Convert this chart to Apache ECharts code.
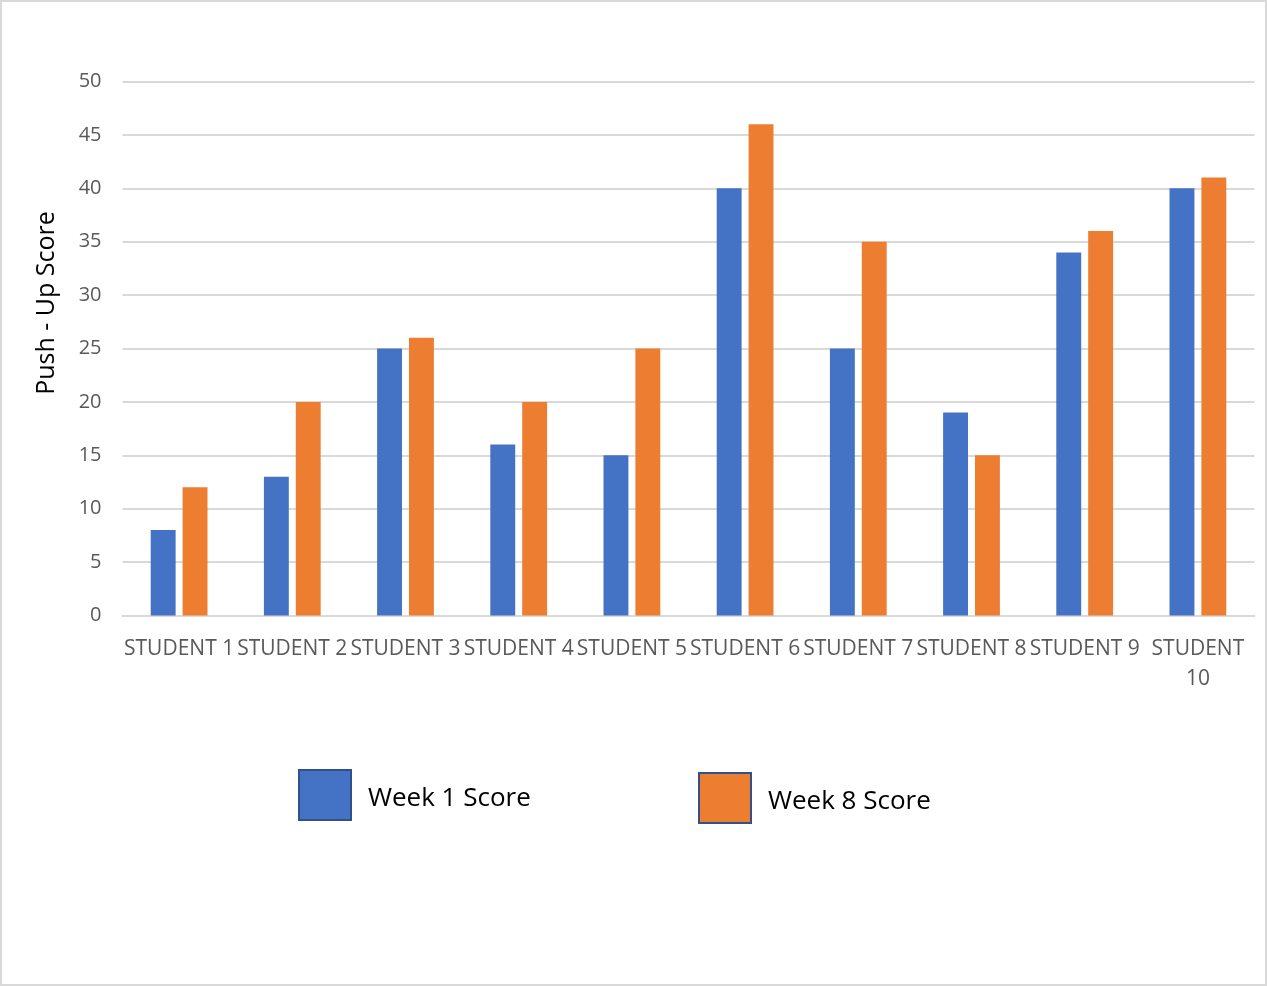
<!DOCTYPE html>
<html>
<head>
<meta charset="utf-8">
<script src="https://cdn.jsdelivr.net/npm/echarts@6/dist/echarts.min.js"></script>
<style>
  html, body { margin: 0; padding: 0; background: #fff; }
  #chart { width: 1267px; height: 986px; }
</style>
</head>
<body>
<div id="chart"></div>
<script>
// Push-up scores per student, first and eighth week
const students = ['STUDENT 1', 'STUDENT 2', 'STUDENT 3', 'STUDENT 4', 'STUDENT 5',
                  'STUDENT 6', 'STUDENT 7', 'STUDENT 8', 'STUDENT 9', 'STUDENT 10'];
const week1Scores = [8, 13, 25, 16, 15, 40, 25, 19, 34, 40];
const week8Scores = [12, 20, 26, 20, 25, 46, 35, 15, 36, 41];
const seriesNames = ['Week 1 Score', 'Week 8 Score'];
const yAxisTitle = 'Push - Up Score';

const chart = echarts.init(document.getElementById('chart'), null, { renderer: 'canvas' });

const legendBase = {
  orient: 'horizontal',
  itemWidth: 52,
  itemHeight: 50,
  icon: 'rect',
  selectedMode: false,
  itemStyle: { borderColor: '#2f528f', borderWidth: 2 },
  formatter: '{t|{name}}',
  textStyle: {
    fontFamily: 'Open Sans',
    fontSize: 26,
    color: '#000',
    padding: [0, 0, 0, 12],
    rich: {
      t: {
        fontFamily: 'Open Sans',
        fontSize: 26,
        color: '#000',
        padding: [8, 0, 0, 0]
      }
    }
  }
};

chart.setOption({
  animation: false,
  color: ['#4472c4', '#ed7d31'],
  grid: { left: 122.5, right: 12.5, top: 81.5, bottom: 370.5, containLabel: false },
  graphic: [
    {
      type: 'rect',
      shape: { x: 1, y: 1, width: 1265, height: 984 },
      style: { fill: 'none', stroke: '#d9d9d9', lineWidth: 2 },
      silent: true
    },
    {
      type: 'text',
      x: 47,
      y: 303,
      rotation: Math.PI / 2,
      style: {
        text: yAxisTitle,
        fontFamily: 'Open Sans',
        fontSize: 25,
        fill: '#000',
        align: 'center',
        verticalAlign: 'middle'
      }
    }
  ],
  legend: [
    Object.assign({}, legendBase, { data: [seriesNames[0]], left: 293, top: 764 }),
    Object.assign({}, legendBase, { data: [seriesNames[1]], left: 693, top: 767 })
  ],
  xAxis: {
    type: 'category',
    data: students,
    axisTick: { show: false },
    axisLine: { lineStyle: { color: '#d9d9d9', width: 2 } },
    axisLabel: {
      interval: 0,
      margin: 19,
      fontFamily: 'Open Sans',
      fontSize: 21,
      color: '#595959',
      lineHeight: 30,
      formatter: v => v.length > 9 ? v.replace(' ', '\n') : v
    }
  },
  yAxis: {
    type: 'value',
    min: 0,
    max: 50,
    interval: 5,
    axisLine: { show: false },
    axisTick: { show: false },
    splitLine: { lineStyle: { color: '#d9d9d9', width: 2 } },
    axisLabel: {
      margin: 21,
      fontFamily: 'Open Sans',
      fontSize: 20,
      color: '#595959'
    }
  },
  series: [
    {
      name: seriesNames[0],
      type: 'bar',
      data: week1Scores,
      barWidth: '22%',
      barGap: '28%',
      itemStyle: { color: '#4472c4' }
    },
    {
      name: seriesNames[1],
      type: 'bar',
      data: week8Scores,
      barWidth: '22%',
      barGap: '28%',
      itemStyle: { color: '#ed7d31' }
    }
  ]
});
</script>
</body>
</html>
